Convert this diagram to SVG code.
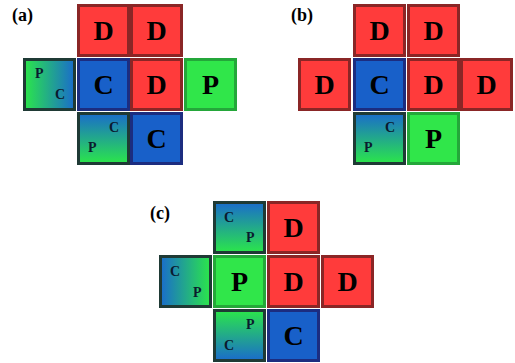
<svg xmlns="http://www.w3.org/2000/svg" width="515" height="363" viewBox="0 0 515 363">
<defs>
<linearGradient id="gLR" x1="0" y1="0" x2="1" y2="0"><stop offset="0" stop-color="#2be64a"/><stop offset="1" stop-color="#1a6ccb"/></linearGradient>
<linearGradient id="bLR" x1="0" y1="0" x2="1" y2="0"><stop offset="0" stop-color="#1a6ccb"/><stop offset="1" stop-color="#2be64a"/></linearGradient>
<linearGradient id="bTB" x1="0" y1="0" x2="0" y2="1"><stop offset="0" stop-color="#1a6ccb"/><stop offset="1" stop-color="#2be64a"/></linearGradient>
<linearGradient id="gTB" x1="0" y1="0" x2="0" y2="1"><stop offset="0" stop-color="#2be64a"/><stop offset="1" stop-color="#1a6ccb"/></linearGradient>
</defs>
<style>
rect{stroke-width:3}
.D rect{fill:#ff3b3b;stroke:#8a2626}
.C rect{fill:#1860c9;stroke:#1c2d80}
.P rect{fill:#30e64a;stroke:#24a73a}
.M rect{stroke:#1f3a35}
text{font-family:"Liberation Serif","Times New Roman",serif;font-weight:bold}
.big{font-size:28px;text-anchor:middle;fill:#000}
.sm{font-size:14px;fill:#0b1a2e}
.lab{font-size:18px;fill:#000}
</style>
<text class="lab" x="12" y="21">(a)</text>
<text class="lab" x="291" y="21">(b)</text>
<text class="lab" x="150" y="219">(c)</text>
<g id="a">
<g id="a1" class="D"><rect x="78.5" y="5.5" width="50" height="50"/><text class="big" x="103.5" y="40">D</text></g>
<g id="a2" class="D"><rect x="131.5" y="5.5" width="50" height="50"/><text class="big" x="156.5" y="40">D</text></g>
<g id="a3" class="M"><rect x="24.5" y="59.5" width="50" height="50" fill="url(#gLR)"/><text class="sm" x="35" y="78">P</text><text class="sm" x="55" y="99">C</text></g>
<g id="a4" class="C"><rect x="78.5" y="59.5" width="50" height="50"/><text class="big" x="103.5" y="94">C</text></g>
<g id="a5" class="D"><rect x="131.5" y="59.5" width="50" height="50"/><text class="big" x="156.5" y="94">D</text></g>
<g id="a6" class="P"><rect x="185.5" y="59.5" width="50" height="50"/><text class="big" x="210.5" y="94">P</text></g>
<g id="a7" class="M"><rect x="78.5" y="113.5" width="50" height="50" fill="url(#bTB)"/><text class="sm" x="109" y="132">C</text><text class="sm" x="88" y="152">P</text></g>
<g id="a8" class="C"><rect x="131.5" y="113.5" width="50" height="50"/><text class="big" x="156.5" y="148">C</text></g>
</g>
<g id="b">
<g id="b1" class="D"><rect x="354.5" y="5.5" width="50" height="50"/><text class="big" x="379.5" y="40">D</text></g>
<g id="b2" class="D"><rect x="408.5" y="5.5" width="50" height="50"/><text class="big" x="433.5" y="40">D</text></g>
<g id="b3" class="D"><rect x="299.5" y="59.5" width="50" height="50"/><text class="big" x="324.5" y="94">D</text></g>
<g id="b4" class="C"><rect x="354.5" y="59.5" width="50" height="50"/><text class="big" x="379.5" y="94">C</text></g>
<g id="b5" class="D"><rect x="408.5" y="59.5" width="50" height="50"/><text class="big" x="433.5" y="94">D</text></g>
<g id="b6" class="D"><rect x="461.5" y="59.5" width="50" height="50"/><text class="big" x="486.5" y="94">D</text></g>
<g id="b7" class="M"><rect x="354.5" y="113.5" width="50" height="50" fill="url(#bTB)"/><text class="sm" x="385" y="132">C</text><text class="sm" x="364" y="152">P</text></g>
<g id="b8" class="P"><rect x="408.5" y="113.5" width="50" height="50"/><text class="big" x="433.5" y="148">P</text></g>
</g>
<g id="c">
<g id="c1" class="M"><rect x="214.5" y="202.5" width="50" height="50" fill="url(#bTB)"/><text class="sm" x="224" y="222">C</text><text class="sm" x="246" y="242">P</text></g>
<g id="c2" class="D"><rect x="268.5" y="202.5" width="50" height="50"/><text class="big" x="293.5" y="237">D</text></g>
<g id="c3" class="M"><rect x="160.5" y="256.5" width="50" height="50" fill="url(#bLR)"/><text class="sm" x="170" y="276">C</text><text class="sm" x="193" y="297">P</text></g>
<g id="c4" class="P"><rect x="214.5" y="256.5" width="50" height="50"/><text class="big" x="239.5" y="291">P</text></g>
<g id="c5" class="D"><rect x="268.5" y="256.5" width="50" height="50"/><text class="big" x="293.5" y="291">D</text></g>
<g id="c6" class="D"><rect x="322.5" y="256.5" width="50" height="50"/><text class="big" x="347.5" y="291">D</text></g>
<g id="c7" class="M"><rect x="214.5" y="310.5" width="50" height="50" fill="url(#gTB)"/><text class="sm" x="246" y="329">P</text><text class="sm" x="224" y="350">C</text></g>
<g id="c8" class="C"><rect x="268.5" y="310.5" width="50" height="50"/><text class="big" x="293.5" y="345">C</text></g>
</g>
<g id="connectors"/>
</svg>
